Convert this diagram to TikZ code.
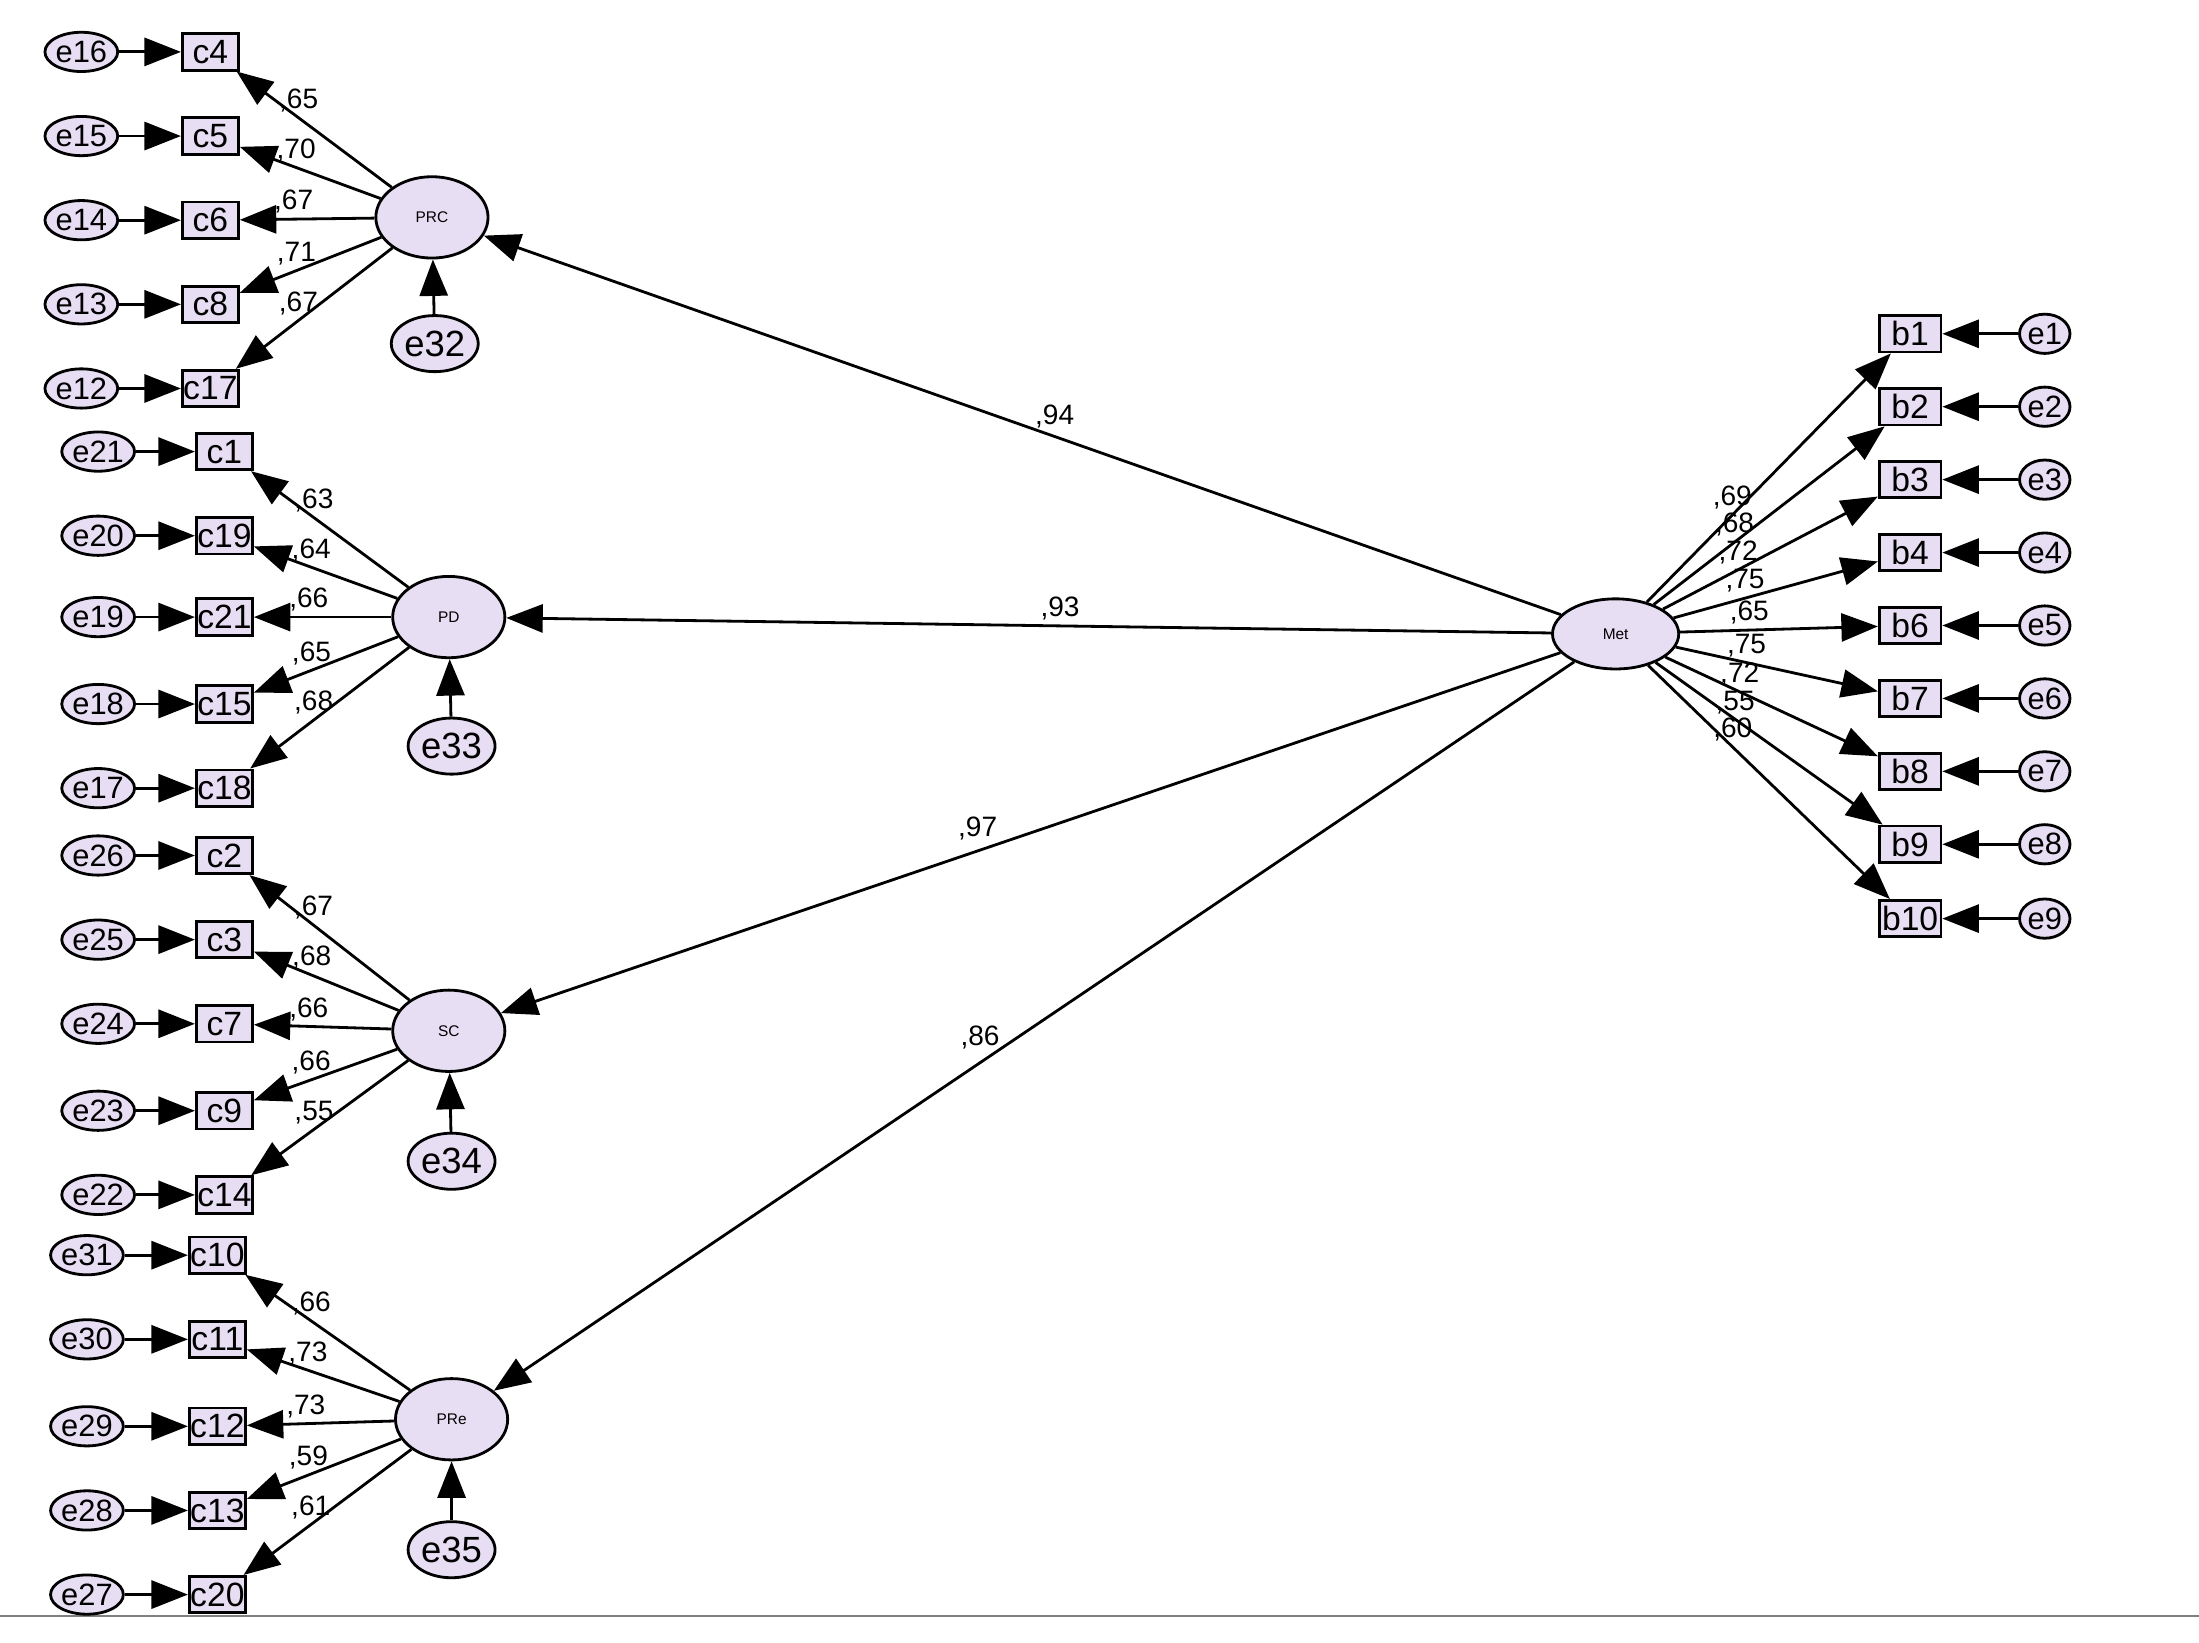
\documentclass[tikz,border=0pt]{standalone}
\usepackage{fontspec}
\setmainfont{Liberation Sans}
\usetikzlibrary{arrows.meta,shapes.geometric}
\begin{document}
\begin{tikzpicture}[x=1pt,y=-1pt,
 lat/.style={ellipse,draw,line width=2pt,fill=lav,minimum width=80pt,minimum height=58pt,inner sep=0pt,font=\fontsize{11}{11}\selectfont},
 obs/.style={rectangle,draw,line width=2pt,fill=lav,minimum width=40pt,minimum height=26pt,inner sep=0pt,font=\fontsize{24}{24}\selectfont},
 err/.style={ellipse,draw,line width=2pt,fill=lav,minimum width=48pt,minimum height=28pt,inner sep=0pt,font=\fontsize{22}{22}\selectfont},
 err2/.style={ellipse,draw,line width=2pt,fill=lav,minimum width=62pt,minimum height=40pt,inner sep=0pt,font=\fontsize{26}{26}\selectfont},
 arr/.style={-{Triangle[length=26pt,width=20pt]},line width=2pt},
 lab/.style={font=\fontsize{20}{20}\selectfont,inner sep=1pt}]
\definecolor{lav}{RGB}{232,222,244}
\useasboundingbox (0,0) rectangle (1568,1171);
\draw[gray,line width=1.5pt] (0,1152) -- (1568,1152);
% latents
\node[lat] (PRC) at (308,155) {PRC};
\node[lat] (PD) at (320,440) {PD};
\node[lat] (SC) at (320,735) {SC};
\node[lat] (PRe) at (322,1012) {PRe};
\node[lat,minimum width=90pt,minimum height=50pt] (Met) at (1152,452) {Met};
\node[err2] (e32) at (310,245) {e32};
\node[err2] (e33) at (322,532) {e33};
\node[err2] (e34) at (322,828) {e34};
\node[err2] (e35) at (322,1105) {e35};
\draw[arr] (e32) -- (PRC);
\draw[arr] (e33) -- (PD);
\draw[arr] (e34) -- (SC);
\draw[arr] (e35) -- (PRe);
% structural
\draw[arr] (Met) -- node[lab,pos=0.47,above=4pt]{,94} (PRC);
\draw[arr] (Met) -- node[lab,pos=0.47,above=2pt]{,93} (PD);
\draw[arr] (Met) -- node[lab,pos=0.55,above=6pt]{,97} (SC);
\draw[arr] (Met) -- node[lab,pos=0.55,above=8pt]{,86} (PRe);
% left groups
\foreach \L/\bx/\ex/\list in {PRC/150/58/{c4/e16/37/65,c5/e15/97/70,c6/e14/157/67,c8/e13/217/71,c17/e12/277/67},
 PD/160/70/{c1/e21/322/63,c19/e20/382/64,c21/e19/440/66,c15/e18/502/65,c18/e17/562/68},
 SC/160/70/{c2/e26/610/67,c3/e25/670/68,c7/e24/730/66,c9/e23/792/66,c14/e22/852/55},
 PRe/155/62/{c10/e31/895/66,c11/e30/955/73,c12/e29/1017/73,c13/e28/1077/59,c20/e27/1137/61}}{
 \foreach \c/\e/\y/\v in \list {
  \node[obs] (\c) at (\bx,\y) {\c};
  \node[err] (\e) at (\ex,\y) {\e};
  \draw[arr] (\e) -- (\c);
  \draw[arr] (\L) -- node[lab,pos=0.6,above=2pt]{,\v} (\c);
 }}
% right group
\foreach \c/\e/\y/\v in {b1/e1/238/69,b2/e2/290/68,b3/e3/342/72,b4/e4/394/75,b6/e5/446/65,b7/e6/498/75,b8/e7/550/72,b9/e8/602/55,b10/e9/655/60}{
  \node[obs,minimum width=44pt] (\c) at (1362,\y) {\c};
  \node[err,minimum width=36pt] (\e) at (1458,\y) {\e};
  \draw[arr] (\e) -- (\c);
  \draw[arr] (Met) -- node[lab,pos=0.35,above=2pt]{,\v} (\c);
}
\end{tikzpicture}
\end{document}
